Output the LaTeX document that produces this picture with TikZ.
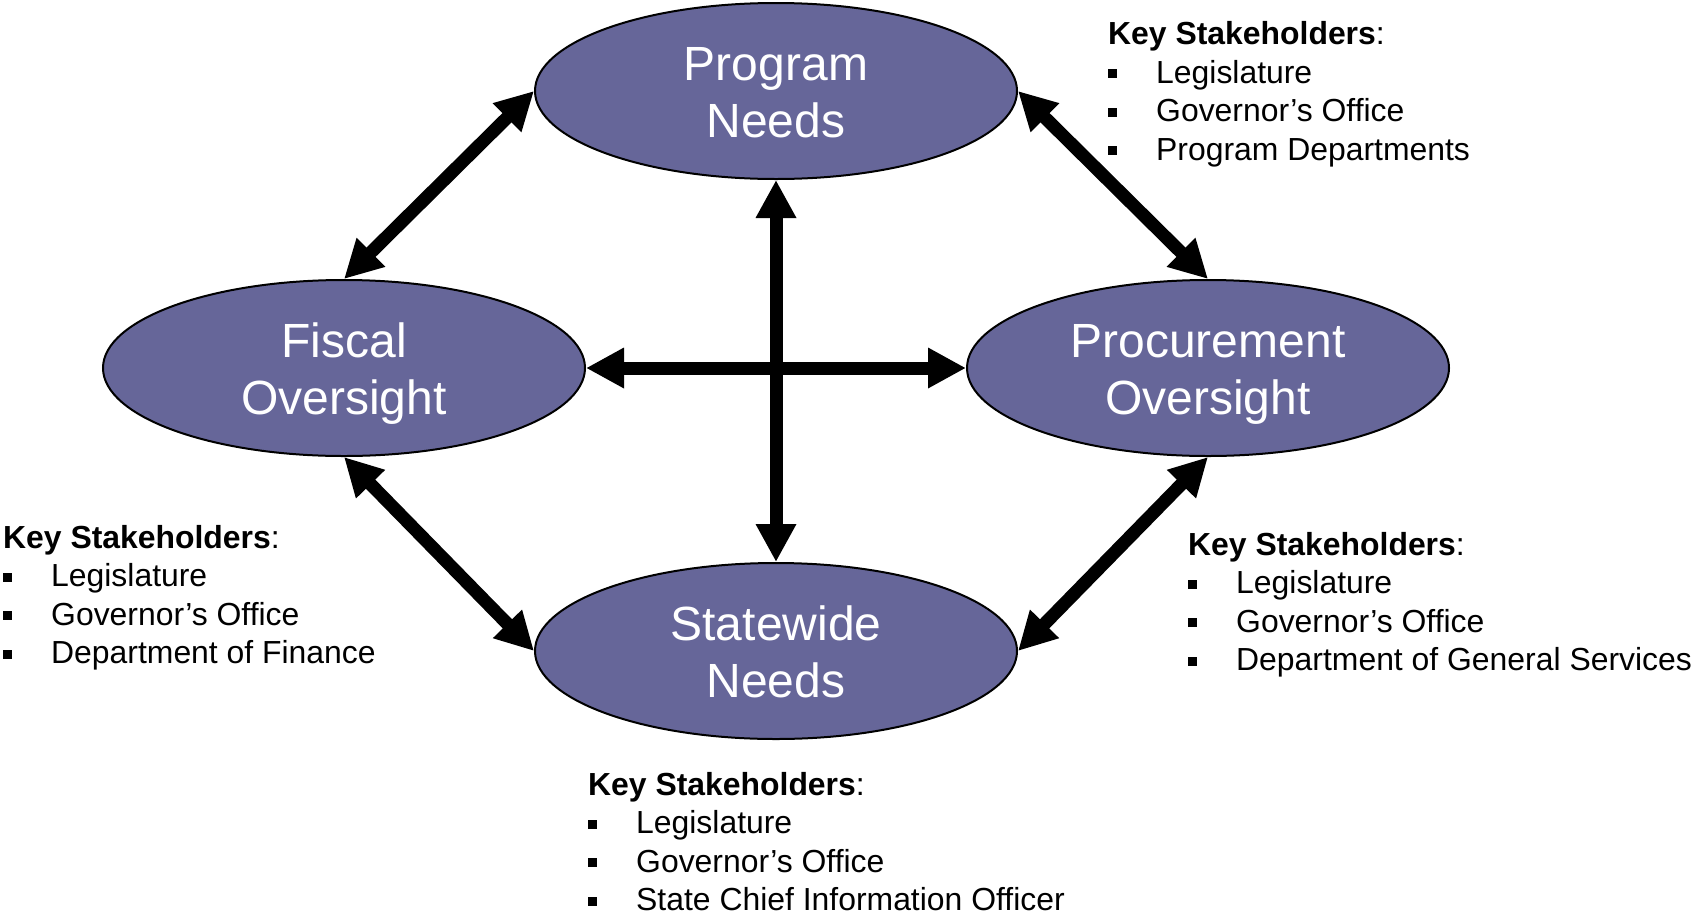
\documentclass[tikz,border=0pt]{standalone}
\usepackage{fontspec}
\setmainfont{Liberation Sans}
\usetikzlibrary{shapes.geometric,arrows.meta}

\definecolor{ovalfill}{RGB}{102,102,153}

% one "Key Stakeholders" list: prefix, x, y of first baseline, three items
\newcommand{\stakelist}[6]{%
  \node[listline] (#1k) at (#2,#3) {\textbf{Key Stakeholders}:};
  \node[listline] (#1a) at (#2,#3+38.6) {\listbullet#4};
  \node[listline] (#1b) at (#2,#3+77.2) {\listbullet#5};
  \node[listline] (#1c) at (#2,#3+115.8) {\listbullet#6};
}
\newcommand{\listbullet}{\makebox[48pt][l]{\rule[5pt]{9pt}{9pt}}}
% two-line oval caption with fixed vertical metrics
\newcommand{\ovaltext}[2]{\rule{0pt}{46pt}#1\\#2\rule[-10pt]{0pt}{10pt}}

\begin{document}
\begin{tikzpicture}[x=1pt,y=-1pt,
  oval/.style={ellipse, draw=black, line width=2pt, fill=ovalfill,
    minimum width=482pt, minimum height=176pt, inner sep=0pt,
    text=white, align=center, font=\fontsize{48}{57}\selectfont},
  link/.style={line width=13pt, draw=black,
    {Triangle[length=38pt,width=38pt]}-{Triangle[length=38pt,width=38pt]}},
  listline/.style={anchor=base west, inner sep=0pt,
    font=\fontsize{31.9}{38}\selectfont}]
\useasboundingbox (0,0) rectangle (1695,916);

% the four concerns
\node[oval] (prog) at (776,91)    {\ovaltext{Program}{Needs}};
\node[oval] (fis)  at (344,368)   {\ovaltext{Fiscal}{Oversight}};
\node[oval] (proc) at (1208,368)  {\ovaltext{Procurement}{Oversight}};
\node[oval] (sw)   at (776,651)   {\ovaltext{Statewide}{Needs}};

% two-way relationships
\draw[link] (fis.north) -- (prog.west);
\draw[link] (prog.east) -- (proc.north);
\draw[link] (fis.south) -- (sw.west);
\draw[link] (proc.south) -- (sw.east);
\draw[link] (fis.east) -- (proc.west);
\draw[link] (prog.south) -- (sw.north);

% stakeholder lists
\stakelist{tr}{1108}{44.5}{Legislature}{Governor’s Office}{Program Departments}
\stakelist{lf}{3}{548}{Legislature}{Governor’s Office}{Department of Finance}
\stakelist{rb}{1188}{555}{Legislature}{Governor’s Office}{Department of General Services}
\stakelist{bt}{588}{795}{Legislature}{Governor’s Office}{State Chief Information Officer}
\end{tikzpicture}
\end{document}
